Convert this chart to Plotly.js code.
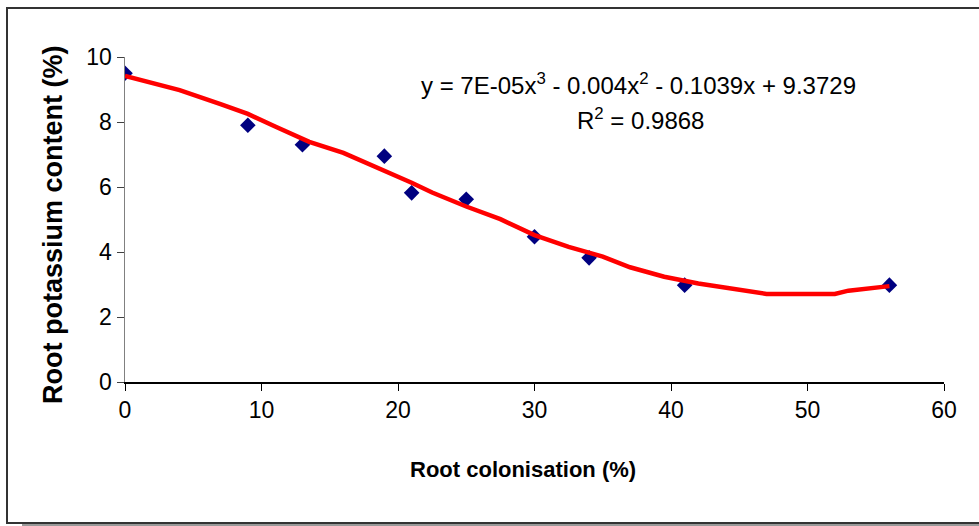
<!DOCTYPE html>
<html>
<head>
<meta charset="utf-8">
<script src="https://cdn.plot.ly/plotly-3.0.1.min.js"></script>
<style>
  html, body { margin: 0; padding: 0; background: #ffffff; }
  #chart { width: 979px; height: 526px; }
</style>
</head>
<body>
<div id="chart"></div>
<script>
// Observed data points
var colonisation = [0, 9, 13, 19, 21, 25, 30, 34, 41, 56];
var potassium    = [9.5, 7.9, 7.3, 6.95, 5.82, 5.62, 4.47, 3.82, 2.98, 2.98];

// Trendline
var trendX = [0, 4, 7, 9, 11, 13.5, 16, 18.5, 21, 22.5, 25, 27.5, 30, 32.5, 35, 37, 39.5, 42, 43.5, 46, 47, 49.5, 52, 53, 55.5, 56];
var trendY = [9.42, 8.98, 8.55, 8.25, 7.86, 7.39, 7.05, 6.6, 6.13, 5.83, 5.4, 5.01, 4.52, 4.16, 3.86, 3.53, 3.24, 3.03, 2.93, 2.78, 2.71, 2.71, 2.71, 2.81, 2.93, 2.95];

var xTitle = 'Root colonisation (%)';
var yTitle = 'Root potassium content (%)';
var equationText = 'y = 7E-05x<sup>3</sup> - 0.004x<sup>2</sup> - 0.1039x + 9.3729';
var r2Text = 'R<sup>2</sup> = 0.9868';

var FONT = 'Arial, "Liberation Sans", sans-serif';

var traces = [
  {
    x: colonisation, y: potassium, type: 'scatter', mode: 'markers',
    marker: { symbol: 'diamond', size: 12, color: '#000080' },
    showlegend: false, hoverinfo: 'x+y'
  },
  {
    x: trendX, y: trendY, type: 'scatter', mode: 'lines',
    line: { color: '#FF0000', width: 4.5 },
    showlegend: false, hoverinfo: 'skip'
  }
];

var L = 125, R = 35, T = 57, B = 144;
var W = 979 - L - R, H = 526 - T - B;
function px(x) { return (x - L) / W; }
function py(y) { return (526 - B - y) / H; }

var layout = {
  width: 979, height: 526,
  margin: { l: L, r: R, t: T, b: B, pad: 0 },
  paper_bgcolor: '#ffffff', plot_bgcolor: '#ffffff',
  font: { family: FONT, color: '#000000', size: 23 },
  xaxis: {
    range: [0, 60], tickvals: [0, 10, 20, 30, 40, 50, 60],
    showgrid: false, zeroline: false,
    showline: true, linecolor: '#000000', linewidth: 1.5,
    ticks: 'outside', ticklen: 7, tickcolor: '#000000', tickwidth: 1,
    tickfont: { family: FONT, size: 23, color: '#000000' }
  },
  yaxis: {
    range: [0, 10], tickvals: [0, 2, 4, 6, 8, 10],
    showgrid: false, zeroline: false,
    showline: true, linecolor: '#808080', linewidth: 1.5,
    ticks: 'outside', ticklen: 7, tickcolor: '#404040', tickwidth: 1,
    tickfont: { family: FONT, size: 23, color: '#000000' }
  },
  annotations: [
    { text: equationText, xref: 'paper', yref: 'paper', x: px(638), y: py(84), xanchor: 'center', yanchor: 'middle',
      showarrow: false, font: { family: FONT, size: 24, color: '#000000' } },
    { text: r2Text, xref: 'paper', yref: 'paper', x: px(640), y: py(119), xanchor: 'center', yanchor: 'middle',
      showarrow: false, font: { family: FONT, size: 24, color: '#000000' } },
    { text: '<b>' + xTitle + '</b>', xref: 'paper', yref: 'paper', x: px(523), y: py(469), xanchor: 'center', yanchor: 'middle',
      showarrow: false, font: { family: FONT, size: 22, color: '#000000' } },
    { text: '<b>' + yTitle + '</b>', xref: 'paper', yref: 'paper', x: px(53), y: py(225), xanchor: 'center', yanchor: 'middle',
      textangle: -90, showarrow: false, font: { family: FONT, size: 27, color: '#000000' } }
  ],
  shapes: [
    { type: 'line', xref: 'paper', yref: 'paper', x0: px(22), x1: px(990), y0: py(525), y1: py(525),
      line: { color: '#999999', width: 2 } },
    { type: 'rect', xref: 'paper', yref: 'paper', x0: px(7), x1: px(990), y0: py(523), y1: py(8),
      line: { color: '#333333', width: 2 }, fillcolor: 'rgba(0,0,0,0)', layer: 'below' }
  ]
};

Plotly.newPlot('chart', traces, layout, { displayModeBar: false, staticPlot: true });
</script>
</body>
</html>
